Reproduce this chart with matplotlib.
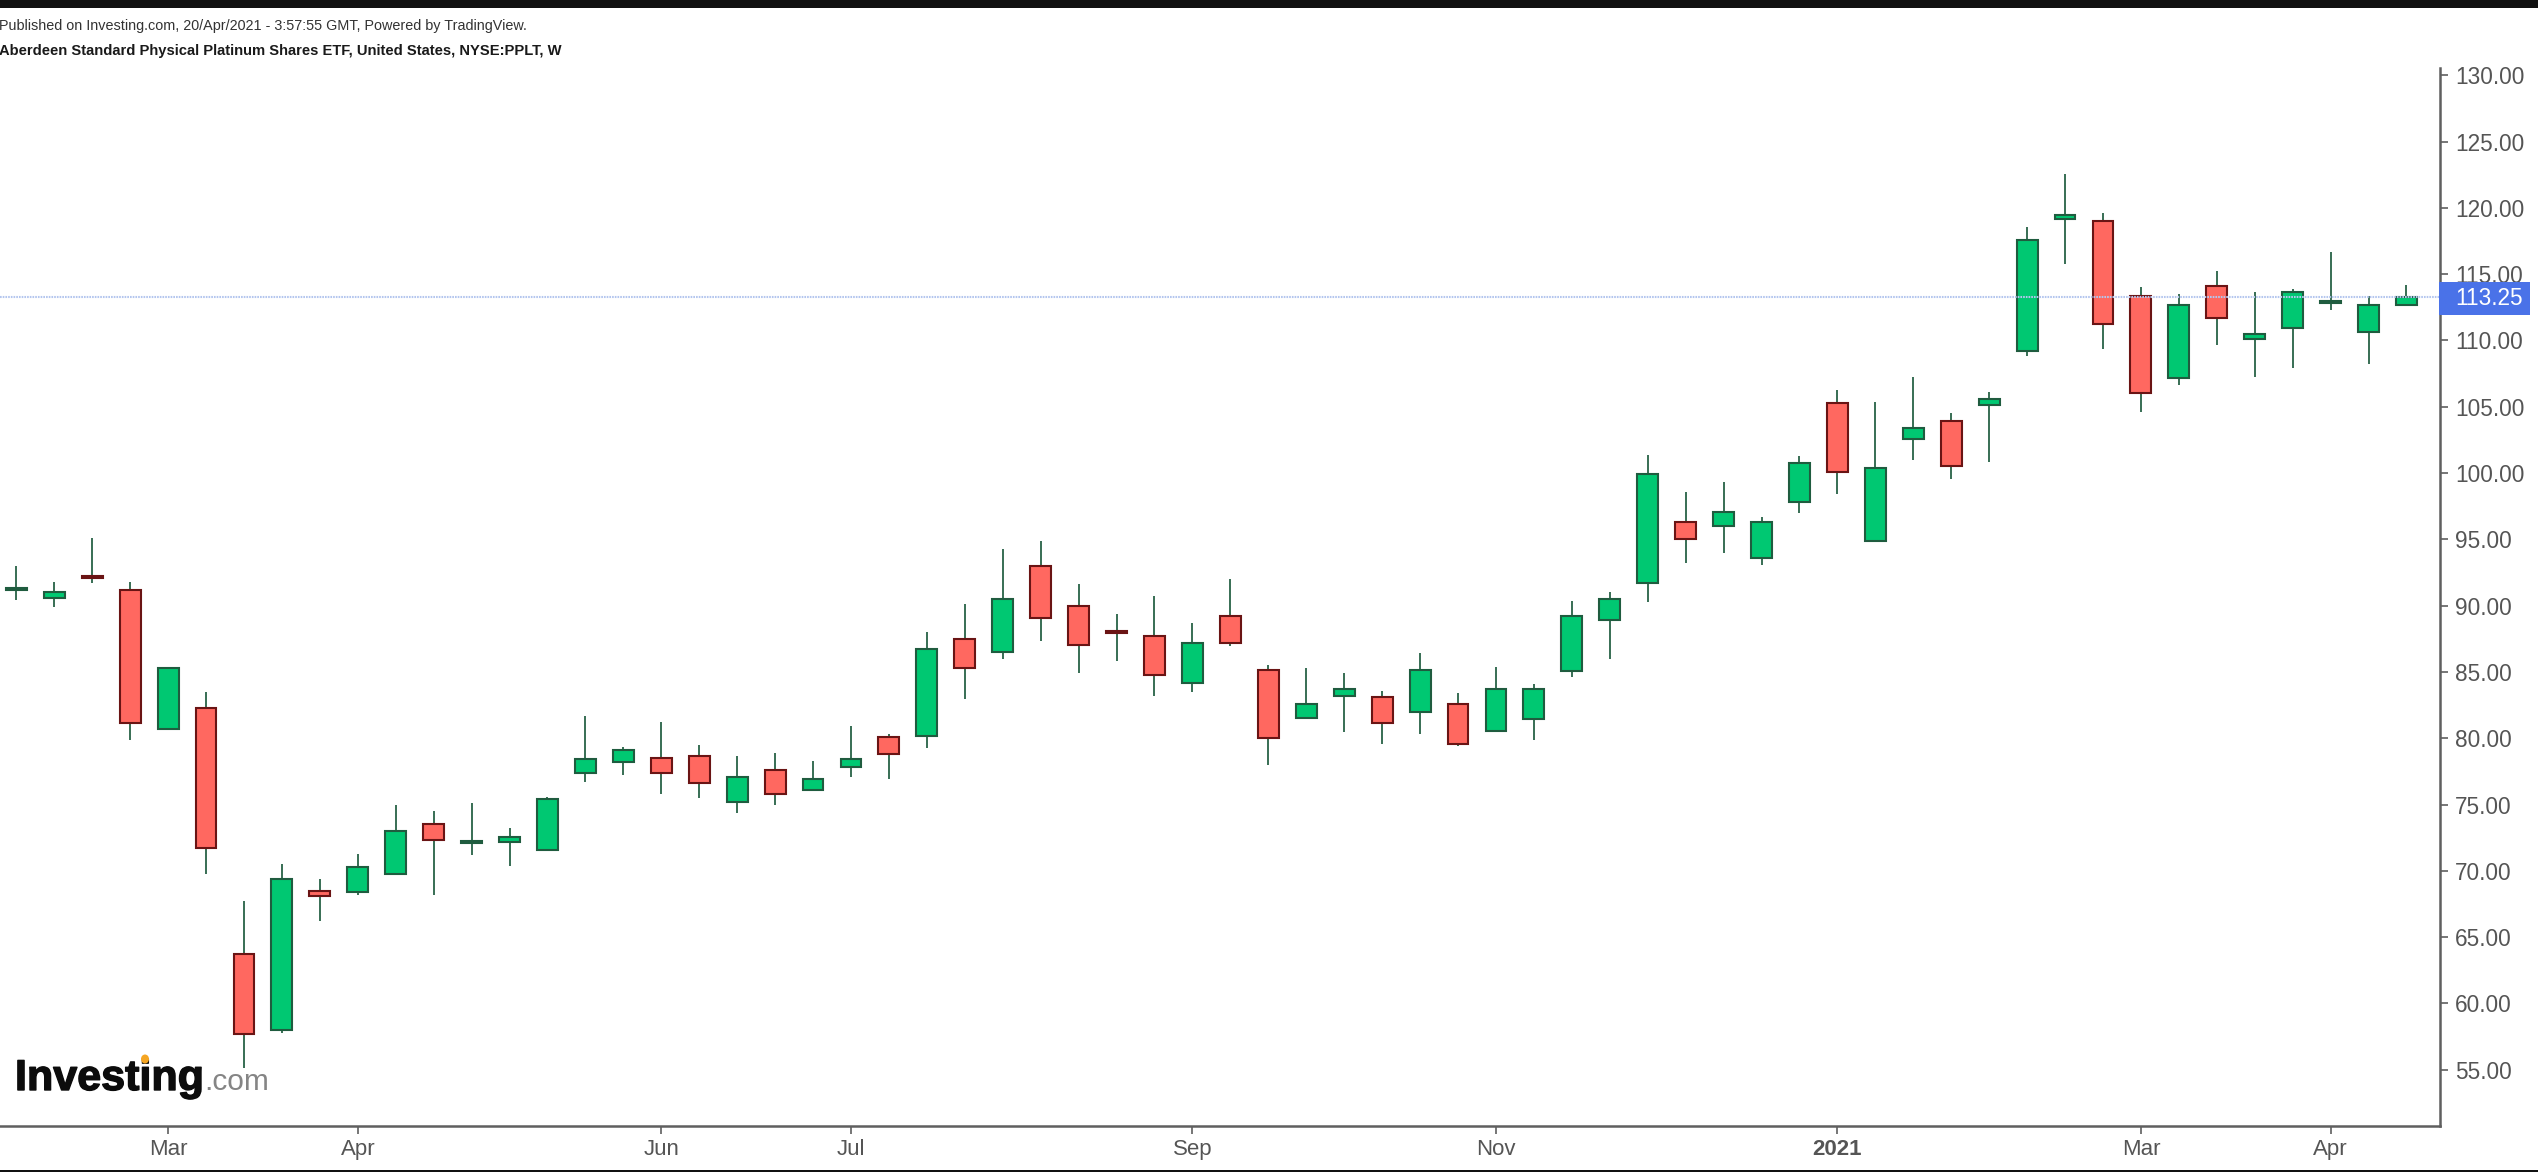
import matplotlib
matplotlib.use("Agg")
import matplotlib.pyplot as plt
import matplotlib.patheffects as pe
from matplotlib.patches import Rectangle, Ellipse

# weekly candles
opens = [91.15, 90.6, 92.25, 91.15, 80.7, 82.3, 63.75, 58.0, 68.45, 68.4, 69.8, 73.5,
         72.1, 72.2, 71.55, 77.4, 78.2, 78.5, 78.7, 75.2, 77.6, 76.1, 77.85, 80.1,
         80.2, 87.5, 86.5, 93.0, 90.0, 88.1, 87.7, 84.15, 89.25, 85.15, 81.5, 83.2,
         83.1, 82.0, 82.6, 80.55, 81.47, 85.1, 88.9, 91.7, 96.3, 96.0, 93.6, 97.85,
         105.3, 94.86, 102.57, 103.9, 105.1, 109.2, 119.13, 119.0, 113.35, 107.17, 114.12, 110.13,
         110.93, 112.85, 110.63, 112.7]
closes = [91.3, 91.0, 92.1, 81.15, 85.3, 71.7, 57.7, 69.4, 68.1, 70.33, 73.0, 72.35,
          72.25, 72.55, 75.4, 78.4, 79.15, 77.4, 76.6, 77.1, 75.8, 76.95, 78.4, 78.8,
          86.7, 85.3, 90.5, 89.1, 87.0, 87.95, 84.8, 87.2, 87.15, 80.05, 82.6, 83.75,
          81.15, 85.15, 79.6, 83.73, 83.73, 89.23, 90.5, 99.93, 95.0, 97.1, 96.3, 100.74,
          100.06, 100.4, 103.4, 100.54, 105.6, 117.6, 119.47, 111.26, 106.06, 112.7, 111.71, 110.5,
          113.65, 113.0, 112.7, 113.25]
highs = [93.0, 91.8, 95.1, 91.8, 85.3, 83.5, 67.7, 70.55, 69.4, 71.3, 75.0, 74.5,
         75.1, 73.2, 75.55, 81.7, 79.35, 81.25, 79.5, 78.7, 78.9, 78.25, 80.9, 80.3,
         88.0, 90.1, 94.3, 94.9, 91.6, 89.4, 90.7, 88.7, 92.0, 85.5, 85.3, 84.9,
         83.6, 86.45, 83.45, 85.35, 84.1, 90.36, 91.0, 101.4, 98.55, 99.35, 96.7, 101.3,
         106.3, 105.34, 107.24, 104.55, 106.13, 118.57, 122.52, 119.65, 114.0, 113.52, 115.25, 113.67,
         113.85, 116.7, 113.35, 114.15]
lows = [90.4, 89.9, 91.7, 79.9, 80.7, 69.8, 55.15, 57.8, 66.2, 68.2, 69.8, 68.2,
        71.2, 70.4, 71.55, 76.7, 77.2, 75.8, 75.5, 74.4, 75.0, 76.1, 77.05, 76.9,
        79.3, 83.0, 86.0, 87.3, 84.9, 85.8, 83.2, 83.5, 86.95, 78.0, 81.5, 80.5,
        79.6, 80.35, 79.4, 80.55, 79.9, 84.6, 86.0, 90.26, 93.25, 94.0, 93.1, 97.0,
        98.45, 94.86, 101.0, 99.56, 100.8, 108.85, 115.8, 109.33, 104.58, 106.64, 109.63, 107.26,
        107.9, 112.3, 108.2, 112.7]

x_tick_bars = [4, 9, 17, 22, 31, 39, 48, 56, 61]
x_tick_labels = ["Mar", "Apr", "Jun", "Jul", "Sep", "Nov", "2021", "Mar", "Apr"]
y_ticks = [55, 60, 65, 70, 75, 80, 85, 90, 95, 100, 105, 110, 115, 120, 125, 130]

title_top = "Published on Investing.com, 20/Apr/2021 - 3:57:55 GMT, Powered by TradingView."
title_name = "Aberdeen Standard Physical Platinum Shares ETF, United States, NYSE:PPLT, W"

WIDTH, HEIGHT = 2538, 1172
GREEN, RED = "#00c872", "#ff6860"
GREEN_EDGE, RED_EDGE = "#1f5c3f", "#6a1414"
AXIS_GREY = "#5f5f5f"
LABEL_GREY = "#555555"

plt.rcParams["font.family"] = ["Liberation Sans", "DejaVu Sans"]


def fx(px):
    return px / WIDTH


def fy(px):
    return 1 - px / HEIGHT


def add_band(fig, top, bottom, left=0, right=WIDTH, color="#111111", zorder=5):
    fig.add_artist(Rectangle((fx(left), fy(bottom)), fx(right - left), (bottom - top) / HEIGHT,
                             transform=fig.transFigure, facecolor=color, edgecolor="none",
                             zorder=zorder))


def draw_candles(ax):
    bars = range(len(opens))
    ax.vlines(bars, lows, highs, color=GREEN_EDGE, linewidth=1.25, zorder=2)
    fill = [GREEN if c >= o else RED for o, c in zip(opens, closes)]
    edge = [GREEN_EDGE if c >= o else RED_EDGE for o, c in zip(opens, closes)]
    heights = [c - o for o, c in zip(opens, closes)]
    ax.bar(bars, heights, bottom=opens, width=0.55, color=fill, edgecolor=edge,
           linewidth=1.5, zorder=3)


fig = plt.figure(figsize=(WIDTH / 100, HEIGHT / 100), dpi=100, facecolor="white")
ax = fig.add_axes([0, fy(1126), fx(2439.5), (1126 - 68) / HEIGHT])

draw_candles(ax)
ax.axhline(closes[-1], color="#b4c6ee", linewidth=1.5, linestyle=(0, (0.8, 0.5)), zorder=4)

ax.set_xlim(-0.43, 63.87)
ax.set_ylim(50.76, 130.55)

for side in ["top", "left"]:
    ax.spines[side].set_visible(False)
for side in ["bottom", "right"]:
    ax.spines[side].set_color(AXIS_GREY)
    ax.spines[side].set_linewidth(1.8)

ax.yaxis.tick_right()
ax.set_yticks(y_ticks)
ax.set_yticklabels(["%.2f" % v for v in y_ticks])
ax.set_xticks(x_tick_bars)
ax.set_xticklabels(x_tick_labels)
ax.tick_params(axis="y", length=5.5, width=1.2, color=AXIS_GREY, labelcolor=LABEL_GREY,
               labelsize=16.3, pad=5.5)
ax.tick_params(axis="x", length=5.5, width=1.2, color=AXIS_GREY, labelcolor=LABEL_GREY,
               labelsize=16, pad=4)
for label in ax.get_xticklabels():
    if label.get_text() == "2021":
        label.set_fontweight("bold")

# black bands at the top and bottom edge of the screenshot
add_band(fig, 0, 8)
add_band(fig, 1170, 1172)

fig.text(fx(-1), fy(26), title_top, fontsize=10.4, color="#333333", va="center", ha="left")
fig.text(fx(-1), fy(50.5), title_name, fontsize=10.6, color="#1a1a1a", fontweight="bold",
         va="center", ha="left")

# last price label
add_band(fig, 282, 315, left=2439, right=2530, color="#4a72e8", zorder=6)
fig.text(fx(2455), fy(298.5), "%.2f" % closes[-1], fontsize=16.3, color="white",
         va="center", ha="left", zorder=7)

# Investing.com logo
logo = fig.text(fx(15), fy(1090), "Investing", fontsize=31, fontweight="bold", color="#0c0c0c",
                va="baseline", ha="left", zorder=7)
logo.set_path_effects([pe.withStroke(linewidth=1.0, foreground="#0c0c0c")])
fig.text(fx(204), fy(1090), ".com", fontsize=21.5, color="#858585",
         va="baseline", ha="left", zorder=7)
fig.add_artist(Ellipse((fx(145), fy(1059)), 8 / WIDTH, 9 / HEIGHT, transform=fig.transFigure,
                       facecolor="#f5a623", edgecolor="none", zorder=8))

fig.savefig("out.png", dpi=100)
